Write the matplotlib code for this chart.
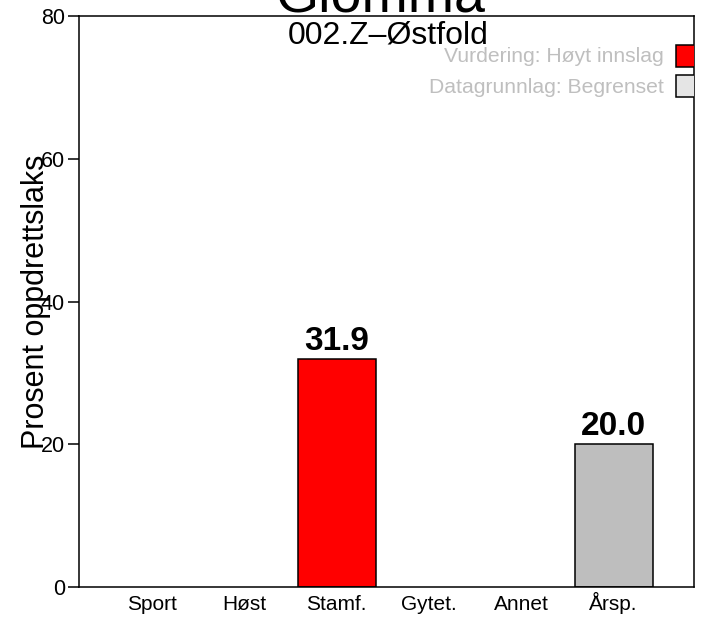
import matplotlib
matplotlib.use('Agg')
import matplotlib.pyplot as plt
from matplotlib.patches import Rectangle

plt.rcParams['font.family'] = ['Liberation Sans', 'DejaVu Sans']

# data
kategorier = ['Sport', 'Høst', 'Stamf.', 'Gytet.', 'Annet', 'Årsp.']
verdier = [0, 0, 31.9, 0, 0, 20.0]
farger = ['white', 'white', '#ff0000', 'white', 'white', '#bebebe']
vis_etikett = [False, False, True, False, False, True]

tittel = 'Glomma'
undertittel = '002.Z–Østfold'
ylabel = 'Prosent oppdrettslaks'
legend_tekst = ['Vurdering: Høyt innslag', 'Datagrunnlag: Begrenset']
legend_farger = ['#ff0000', '#e5e5e5']
yticks = [0, 20, 40, 60, 80]

fig = plt.figure(figsize=(7.06, 6.2), dpi=100)
ax = fig.add_axes([79 / 706, 1 - 587 / 620, 615 / 706, 571 / 620])

x = list(range(1, len(kategorier) + 1))
for xi, v, c, vis in zip(x, verdier, farger, vis_etikett):
    if v > 0:
        ax.bar(xi, v, width=0.845, color=c, edgecolor='black', linewidth=1.1, zorder=2)
    if vis:
        ax.text(xi, v + 0.3, f'{v:.1f}', ha='center', va='bottom',
                fontsize=24, fontweight='bold')

ax.set_xlim(0.21, 6.87)
ax.set_ylim(0, 80)
ax.set_xticks(x)
ax.set_xticklabels(kategorier, fontsize=15, va='baseline')
ax.tick_params(axis='x', length=0, pad=16.5)
ax.set_yticks(yticks)
ax.set_yticklabels([str(t) for t in yticks], fontsize=15.5)
ax.tick_params(axis='y', length=8, width=1.1, pad=2)
ax.set_ylabel(ylabel, fontsize=22, labelpad=-7)
for sp in ax.spines.values():
    sp.set_linewidth(1.1)

# undertittel og legend
ax.text(0.502, 0.966, undertittel, transform=ax.transAxes, ha='center',
        va='center', fontsize=23)
ty = [0.929, 0.874]
ry = [0.911, 0.858]
for t, f, y0, r0 in zip(legend_tekst, legend_farger, ty, ry):
    ax.text(0.951, y0, t, transform=ax.transAxes, ha='right', va='center',
            fontsize=15.2, color='#bfbfbf')
    ax.add_patch(Rectangle((0.971, r0), 0.06, 0.038, transform=ax.transAxes,
                           facecolor=f, edgecolor='black', linewidth=1.1,
                           clip_on=True, zorder=3))

fig.text(380 / 706, 1 - 12 / 620, tittel, ha='center', va='baseline', fontsize=40)

fig.savefig('out.png', dpi=100)
